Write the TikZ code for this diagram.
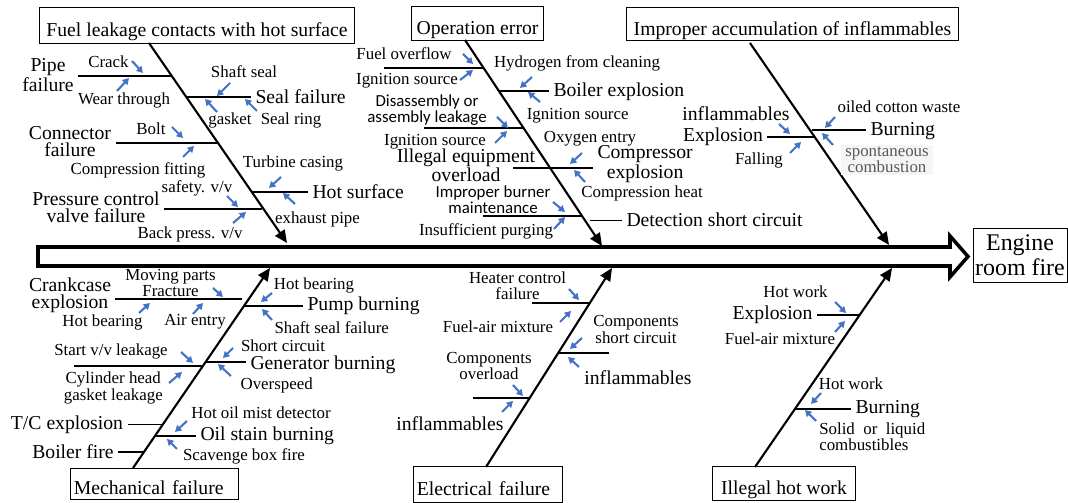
\documentclass[tikz,border=0pt]{standalone}
\usepackage{fontspec}
\setmainfont{Liberation Serif}
\newfontfamily\calibri{Carlito}
\usepackage{xcolor}
\usetikzlibrary{arrows.meta,calc}
\definecolor{cueblue}{RGB}{68,114,196}

\begin{document}
\begin{tikzpicture}[
  x=0.025cm, y=-0.025cm,
  cause/.style={rectangle, draw=black, line width=0.7pt, font=\fontsize{14}{14}\selectfont,
                text height=19pt, text depth=3pt, inner xsep=2pt, inner ysep=0pt},
  big/.style={font=\fontsize{14}{12.2}\selectfont, align=center, inner xsep=3pt, inner ysep=0pt},
  small/.style={font=\fontsize{12}{11.5}\selectfont, align=center, inner sep=0pt},
  sans/.style={font=\calibri\fontsize{12}{11.2}\selectfont, align=center, inner sep=0pt},
  bone/.style={-{Triangle[length=9pt, width=8pt]}, line width=1.5pt},
  branch/.style={line width=1.1pt},
  cue/.style={-{Triangle[length=4.5pt, width=5pt]}, line width=1.5pt, cueblue},
  spine/.style={line width=2.5pt, line join=miter}
]
\useasboundingbox (0,0) rectangle (1068,503);

% Spine and effect
\draw[spine] (38,247) -- (950,247) -- (950,236) -- (968,256.5) -- (950,277) -- (950,266) -- (38,266) -- cycle;
\node[draw, line width=0.7pt, font=\fontsize{17}{18}\selectfont, align=center,
      minimum width=2.35cm, minimum height=1.325cm, inner sep=0pt] (fire) at (1020,255.5) {Engine\\room fire};

% Cause boxes
\node[cause, minimum width=7.85cm, minimum height=0.875cm] (fuel) at (197,25.5) {Fuel leakage contacts with hot surface};
\node[cause, minimum width=3.275cm, minimum height=0.825cm] (operr) at (477.5,23.5) {Operation error};
\node[cause, minimum width=8.275cm, minimum height=0.8cm] (accum) at (792.5,24) {Improper accumulation of inflammables};
\node[cause, minimum width=4.175cm, minimum height=0.775cm, text width={4.175cm-4pt}, align=left] (mech) at (154.5,483.5) {Mechanical failure};
\node[cause, minimum width=3.7cm, minimum height=0.875cm, text width={3.7cm-4pt}, align=left] (elec) at (488,484.5) {Electrical failure};
\node[cause, minimum width=3.55cm, minimum height=0.825cm] (hotwk) at (784,483.5) {Illegal hot work};

% Bones
\coordinate (fuelS) at (149,43);   \coordinate (fuelT) at (287,243);
\coordinate (operrS) at (465,40);  \coordinate (operrT) at (602,246);
\coordinate (accumS) at (750,43);  \coordinate (accumT) at (889,245);
\coordinate (mechS) at (133,468);  \coordinate (mechT) at (270,268);
\coordinate (elecS) at (486,467);  \coordinate (elecT) at (612,268);
\coordinate (hotwkS) at (755,467); \coordinate (hotwkT) at (892,268);
\draw[bone] (fuelS) -- (fuelT);
\draw[bone] (operrS) -- (operrT);
\draw[bone] (accumS) -- (accumT);
\draw[bone] (mechS) -- (mechT);
\draw[bone] (elecS) -- (elecT);
\draw[bone] (hotwkS) -- (hotwkT);

% Fuel leakage contacts with hot surface
\node[big] (pipe) at (48,75) {Pipe\\failure};
\node[small] (crack) at (108.5,62) {Crack};
\node[small] (wear) at (124,100) {Wear through};
\node[big, anchor=west] (seal) at (251,97) {Seal failure};
\node[small] (shaft) at (244,72) {Shaft seal};
\node[small] (gasket) at (230,120) {gasket};
\node[small] (sealring) at (291,120) {Seal ring};
\node[big] (conn) at (70,142) {Connector\\failure};
\node[small] (bolt) at (151,128.5) {Bolt};
\node[small] (compfit) at (138,170) {Compression fitting};
\node[big, anchor=west] (hot) at (308,191.5) {Hot surface};
\node[small] (turbine) at (293,163) {Turbine casing};
\node[small] (exhaust) at (317.5,219) {exhaust pipe};
\node[big] (press) at (96,207) {Pressure control\\valve failure};
\node[small] (safety) at (197,188.5) {safety. v/v};
\node[small] (backpr) at (190,234.5) {Back press. v/v};

\coordinate (pipeJ) at (171,76);
\coordinate (sealJ) at (186,97);
\coordinate (connJ) at (217,143);
\coordinate (hotJ) at (252,192);
\coordinate (pressJ) at (262,209);
\draw[branch] (pipeJ) -- (pipeJ -| pipe.east);
\draw[branch] (sealJ) -- (sealJ -| seal.west);
\draw[branch] (connJ) -- (connJ -| conn.east);
\draw[branch] (hotJ) -- (hotJ -| hot.west);
\draw[branch] (pressJ) -- (pressJ -| press.east);

\draw[cue] (132,61) -- (143,73);
\draw[cue] (117,91) -- (129,78);
\draw[cue] (230,83) -- (217,96);
\draw[cue] (217,112) -- (205,99);
\draw[cue] (257,111) -- (245,99);
\draw[cue] (172,127) -- (183,138);
\draw[cue] (183,157) -- (194,146);
\draw[cue] (281,177) -- (269,188);
\draw[cue] (295,204) -- (283,193);
\draw[cue] (227,196) -- (238,207);
\draw[cue] (233,223) -- (246,212);

% Operation error
\node[small] (fuelov) at (404,53.5) {Fuel overflow};
\node[small] (ign1) at (407,81) {Ignition source};
\node[small] (hydro) at (577,63.5) {Hydrogen from cleaning};
\node[big, anchor=west] (boilex) at (549,92) {Boiler explosion};
\node[small] (ign2) at (577.7,116) {Ignition source};
\node[sans] (disas) at (427,110) {Disassembly or\\assembly leakage};
\node[small] (ign3) at (435,141.5) {Ignition source};
\node[small] (oxy) at (590,139) {Oxygen entry};
\node[big] (illeg) at (466,165) {Illegal equipment\\overload};
\node[big, anchor=west] (compex) at (593,164) {Compressor\\explosion};
\node[small] (compht) at (642,193) {Compression heat};
\node[sans] (burner) at (493,200) {Improper burner\\maintenance};
\node[small] (purge) at (486,231.5) {Insufficient purging};
\node[big, anchor=west] (detect) at (622,220) {Detection short circuit};

\coordinate (ovEnd) at (384,68);     \coordinate (ovJ) at (483,68);
\coordinate (boilJ) at (499,91);
\coordinate (disEnd) at (424,128);   \coordinate (disJ) at (523,128);
\coordinate (illegEnd) at (513,168);
\coordinate (burnEnd) at (483,216);  \coordinate (detJ) at (582,216);
\coordinate (detJ2) at (590,220.5);
\draw[branch] (ovEnd) -- (ovJ);
\draw[branch] (boilJ) -- (boilJ -| boilex.west);
\draw[branch] (disEnd) -- (disJ);
\draw[branch] (illegEnd) -- (illegEnd -| compex.west);
\draw[branch] (burnEnd) -- (detJ);
\draw[branch] (detJ2) -- (detJ2 -| detect.west);

\draw[cue] (463,54) -- (473,64);
\draw[cue] (460,80) -- (473,70);
\draw[cue] (532,77) -- (520,88);
\draw[cue] (540,102) -- (528,92);
\draw[cue] (497,117) -- (508,128);
\draw[cue] (495,143) -- (507,131);
\draw[cue] (582,153) -- (570,164);
\draw[cue] (585,182) -- (574,170);
\draw[cue] (553,202) -- (565,212);
\draw[cue] (554,229) -- (565,217);

% Improper accumulation of inflammables
\node[big] (inflA) at (736,114) {inflammables};
\node[big] (explA) at (723,137) {Explosion};
\node[small] (fall) at (759,160) {Falling};
\node[big, anchor=west] (burnA) at (866,131) {Burning};
\node[small] (oiled) at (899,107) {oiled cotton waste};
\node[small, fill=gray!8, text=gray!70!black, inner xsep=3pt, inner ysep=1.5pt] (spont) at (887,160) {spontaneous\\combustion};

\coordinate (explAJ) at (815,137);
\coordinate (burnAJ) at (812,130);
\draw[branch] (explAJ) -- (explAJ -| explA.east);
\draw[branch] (burnAJ) -- (burnAJ -| burnA.west);

\draw[cue] (779,124) -- (790,134);
\draw[cue] (790,153) -- (801,142);
\draw[cue] (835,117) -- (825,128);
\draw[cue] (833,145) -- (822,133);

% Mechanical failure
\node[big] (crank) at (70,295) {Crankcase\\explosion};
\node[small] (moving) at (170.5,283) {Moving parts\\Fracture};
\node[small] (hotb1) at (102.5,322) {Hot bearing};
\node[small] (air) at (195,322) {Air entry};
\node[big, anchor=west] (pump) at (303,305.5) {Pump burning};
\node[small] (hotb2) at (314,285) {Hot bearing};
\node[small] (shaftsf) at (331.7,327.5) {Shaft seal failure};
\node[small] (short1) at (283,346) {Short circuit};
\node[big, anchor=west] (gen) at (246,365) {Generator burning};
\node[small] (overspd) at (276.7,385) {Overspeed};
\node[small] (startvv) at (111,351) {Start v/v leakage};
\node[small] (cylhead) at (113.3,388) {Cylinder head\\gasket leakage};
\node[big] (tc) at (67,424.5) {T/C explosion};
\node[small] (hotoil) at (261,412.5) {Hot oil mist detector};
\node[big, anchor=west] (oil) at (196,435.5) {Oil stain burning};
\node[small] (scav) at (244,456.5) {Scavenge box fire};
\node[big] (boilf) at (73,451.5) {Boiler fire};

\coordinate (crankJ) at (242,299);
\coordinate (pumpJ) at (244,306);
\coordinate (genJ) at (206,362);
\coordinate (startEnd) at (74,366);  \coordinate (startJ) at (203,366);
\coordinate (tcJ) at (163,424.5);
\coordinate (oilJ) at (155,436);
\coordinate (boilfJ) at (144,452);
\draw[branch] (crankJ) -- (crankJ -| crank.east);
\draw[branch] (pumpJ) -- (pumpJ -| pump.west);
\draw[branch] (genJ) -- (genJ -| gen.west);
\draw[branch] (startEnd) -- (startJ);
\draw[branch] (tcJ) -- (tcJ -| tc.east);
\draw[branch] (oilJ) -- (oilJ -| oil.west);
\draw[branch] (boilfJ) -- (boilfJ -| boilf.east);

\draw[cue] (213,288) -- (223,297);
\draw[cue] (139,313) -- (150,303);
\draw[cue] (193,314) -- (203,303);
\draw[cue] (272,293) -- (261,302);
\draw[cue] (272,320) -- (262,309);
\draw[cue] (233,348) -- (223,358);
\draw[cue] (231,376) -- (218,364);
\draw[cue] (181,352) -- (193,363);
\draw[cue] (169,383) -- (182,372);
\draw[cue] (187,421) -- (175,432);
\draw[cue] (177,449) -- (167,439);

% Electrical failure
\node[small] (heater) at (517.5,285.5) {Heater control\\failure};
\node[small] (fuelair1) at (498,326.7) {Fuel-air mixture};
\node[small] (compsc) at (636,329.5) {Components\\short circuit};
\node[big] (infl1) at (638,378) {inflammables};
\node[small] (compov) at (489,366) {Components\\overload};
\node[big] (infl2) at (450,423.5) {inflammables};

\coordinate (heatEnd) at (532,303); \coordinate (heatJ) at (589,303);
\coordinate (cscJ) at (558,353);    \coordinate (cscEnd) at (609,353);
\coordinate (covEnd) at (473,398);  \coordinate (covJ) at (529,398);
\draw[branch] (heatEnd) -- (heatJ);
\draw[branch] (cscJ) -- (cscEnd);
\draw[branch] (covEnd) -- (covJ);

\draw[cue] (569,289) -- (579,300);
\draw[cue] (560,322) -- (571,311);
\draw[cue] (582,338) -- (570,349);
\draw[cue] (579,367) -- (568,357);
\draw[cue] (513,385) -- (523,396);
\draw[cue] (502,412) -- (513,401);

% Illegal hot work
\node[small] (hw1) at (795.5,292) {Hot work};
\node[big] (explB) at (772.5,314.5) {Explosion};
\node[small] (fuelair2) at (780,338.8) {Fuel-air mixture};
\node[small] (hw2) at (851,383.5) {Hot work};
\node[big, anchor=west] (burnB) at (851,409) {Burning};
\node[small, anchor=west, align=left] (solid) at (819,437) {Solid\hspace{3pt} or\hspace{3pt} liquid\\combustibles};

\coordinate (explBJ) at (859,315);
\coordinate (burnBJ) at (795,409);
\draw[branch] (explBJ) -- (explBJ -| explB.east);
\draw[branch] (burnBJ) -- (burnBJ -| burnB.west);

\draw[cue] (835,302) -- (846,313);
\draw[cue] (835,332) -- (845,321);
\draw[cue] (821,393) -- (811,404);
\draw[cue] (816,421) -- (805,410);

\end{tikzpicture}
\end{document}
